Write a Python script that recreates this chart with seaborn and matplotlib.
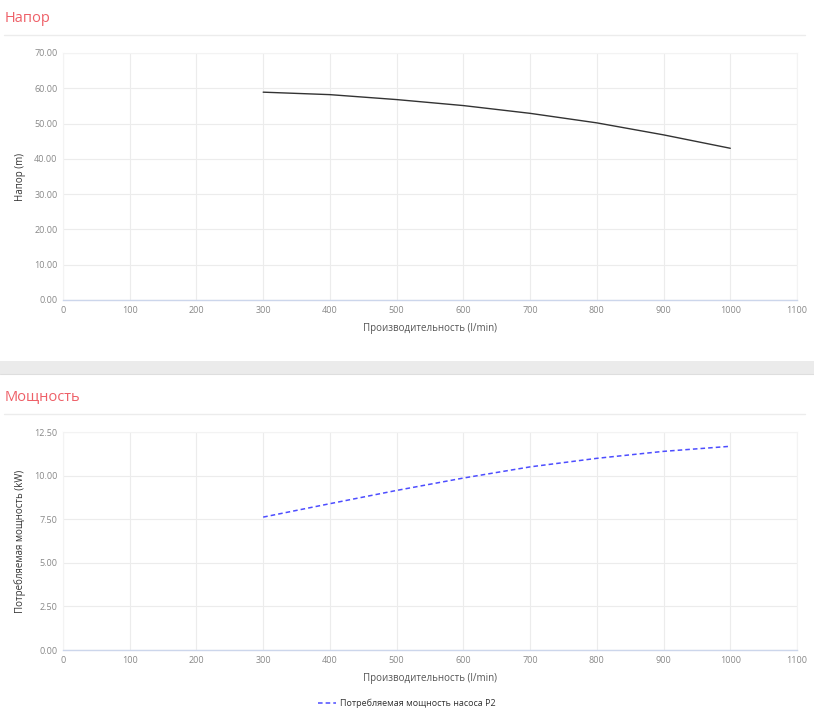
import numpy as np
import pandas as pd
import seaborn as sns
import matplotlib.pyplot as plt
from matplotlib.lines import Line2D
from matplotlib.patches import Rectangle

# Data
flow = [300, 400, 500, 600, 700, 800, 900, 1000]
head = [58.9, 58.2, 56.8, 55.1, 52.9, 50.2, 46.8, 43.0]
power = [7.62, 8.39, 9.15, 9.86, 10.50, 10.99, 11.39, 11.68]

x_ticks = list(range(0, 1101, 100))
head_ticks = [0, 10, 20, 30, 40, 50, 60, 70]
power_ticks = [0, 2.5, 5, 7.5, 10, 12.5]

df = pd.DataFrame({'flow': flow, 'head': head, 'power': power})

sns.set_theme(style='white')
plt.rcParams['font.family'] = ['Open Sans', 'DejaVu Sans']

W, H = 814, 725
fig = plt.figure(figsize=(W / 100, H / 100), dpi=100)
fig.patch.set_facecolor('white')


def box(x0, y0, x1, y1):
    # pixel box (top-left origin) -> figure fraction
    return [x0 / W, 1 - y1 / H, (x1 - x0) / W, (y1 - y0) / H]


def style_axis(ax, yticks, ylabel):
    ax.set_xlim(0, 1100)
    ax.set_ylim(yticks[0], yticks[-1])
    ax.set_xticks(x_ticks)
    ax.set_yticks(yticks)
    ax.set_yticklabels([f'{v:.2f}' for v in yticks])
    ax.grid(True, color='#ececec', linewidth=0.8)
    ax.set_axisbelow(True)
    for s in ['top', 'right', 'left']:
        ax.spines[s].set_visible(True)
        ax.spines[s].set_color('#f3f3f3')
        ax.spines[s].set_linewidth(0.8)
    ax.spines['bottom'].set_color('#ccd6eb')
    ax.spines['bottom'].set_linewidth(1)
    ax.tick_params(axis='both', length=0, labelsize=6.5, colors='#888888', pad=4)
    ax.set_xlabel('Производительность (l/min)', fontsize=7, color='#555555', labelpad=6)
    ax.set_ylabel(ylabel, fontsize=7, color='#333333', labelpad=6)


# Section titles and separators
fig.text(5 / W, 1 - 19 / H, 'Напор', color='#ee6068', fontsize=10.5, va='center', ha='left')
fig.add_artist(Line2D([4 / W, 805 / W], [1 - 35 / H] * 2, color='#ececec', linewidth=1))
fig.add_artist(Rectangle((0, 1 - 374 / H), 1, 13 / H, transform=fig.transFigure,
                         facecolor='#ebebeb', edgecolor='none'))
fig.add_artist(Line2D([0, 1], [1 - 374 / H] * 2, color='#dedede', linewidth=0.8))
fig.text(5 / W, 1 - 398 / H, 'Мощность', color='#ee6068', fontsize=10.5, va='center', ha='left')
fig.add_artist(Line2D([4 / W, 805 / W], [1 - 414 / H] * 2, color='#ececec', linewidth=1))

# Head chart
ax1 = fig.add_axes(box(63, 53, 797, 300))
sns.lineplot(data=df, x='flow', y='head', ax=ax1, color='#333333', linewidth=1)
style_axis(ax1, head_ticks, 'Напор (m)')

# Power chart
ax2 = fig.add_axes(box(63, 432, 797, 650))
sns.lineplot(data=df, x='flow', y='power', ax=ax2, color='#4d4dff', linewidth=1.1,
             linestyle=(0, (3, 2)), label='Потребляемая мощность насоса P2', legend=False)
style_axis(ax2, power_ticks, 'Потребляемая мощность (kW)')

handles, labels = ax2.get_legend_handles_labels()
fig.legend(handles, labels, loc='center', bbox_to_anchor=(407 / W, 1 - 703 / H),
           frameon=False, fontsize=6.5, handlelength=2, handletextpad=0.5,
           labelcolor='#333333')

fig.savefig('out.png', dpi=100, facecolor='white')
